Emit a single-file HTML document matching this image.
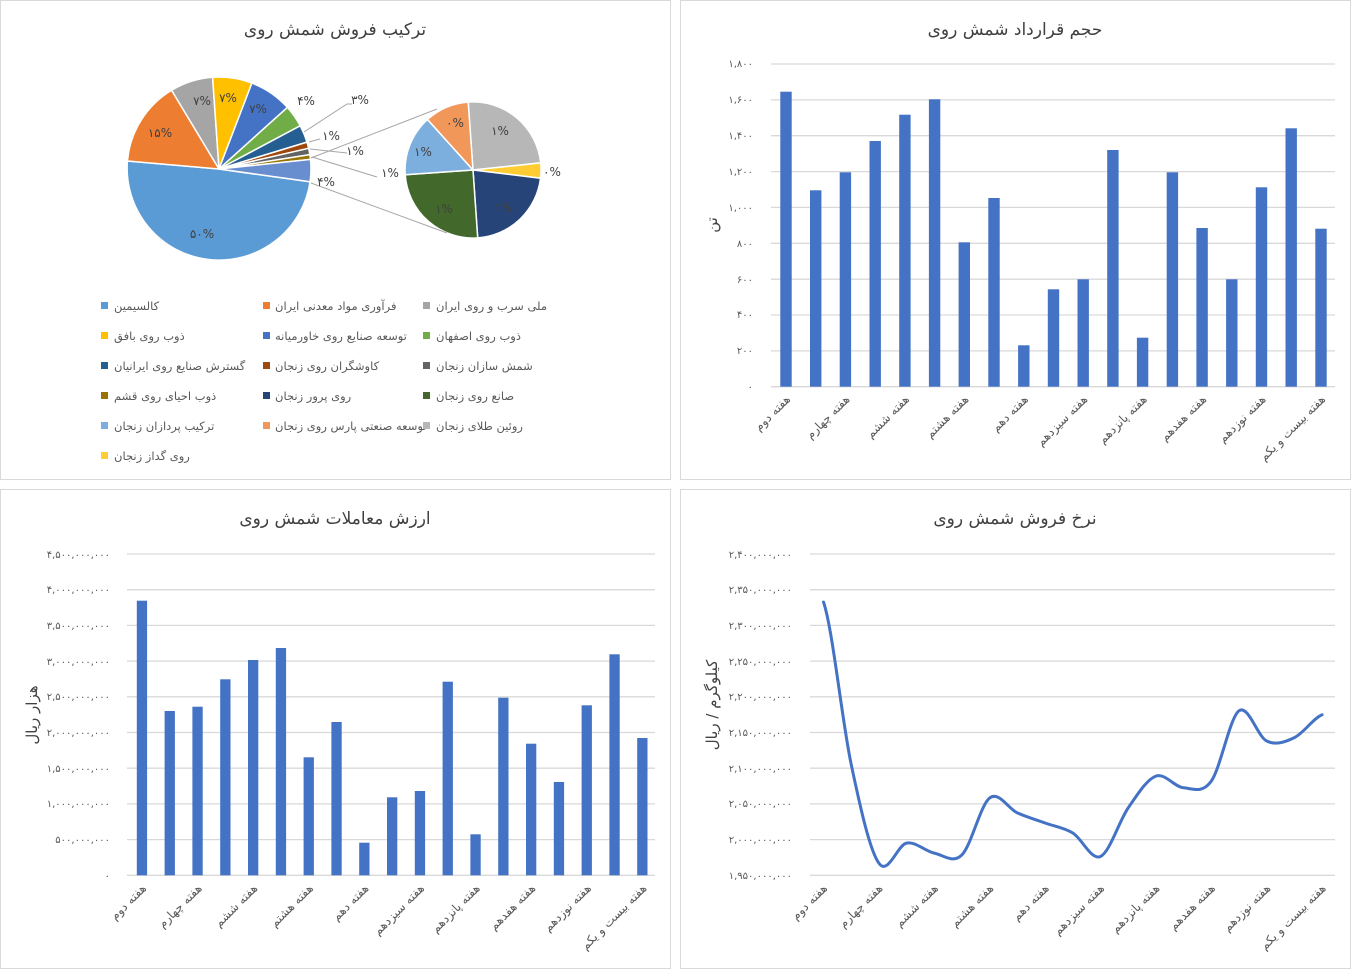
<!DOCTYPE html>
<html><head><meta charset="utf-8"><style>
html,body{margin:0;padding:0;background:#fff}
svg{display:block}
text{font-family:"DejaVu Sans","Liberation Sans",sans-serif}
.t{font-size:17px;fill:#404040;text-anchor:middle}
.tk{font-size:10px;fill:#595959;text-anchor:end}
.xl{font-size:12px;fill:#595959;text-anchor:end}
.lg{font-size:11.5px;fill:#595959}
.pl{font-size:12px;fill:#404040;text-anchor:middle}
.at{font-size:15px;fill:#404040;text-anchor:middle}
.g{stroke:#D9D9D9;stroke-width:1.3}
</style></head><body>
<svg width="1351" height="969" viewBox="0 0 1351 969" xmlns="http://www.w3.org/2000/svg">
<rect x="0" y="0" width="1351" height="969" fill="#fff"/>
<g fill="none" stroke="#D9D9D9" stroke-width="1">
<rect x="0.5" y="0.5" width="670" height="479"/>
<rect x="680.5" y="0.5" width="670" height="479"/>
<rect x="0.5" y="489.5" width="670" height="479"/>
<rect x="680.5" y="489.5" width="670" height="479"/>
</g>

<!-- PIE -->
<text class="t" x="335" y="35">ترکیب فروش شمش روی</text>
<g stroke="#fff" stroke-width="1.5" stroke-linejoin="round">
<path d="M219,169 L310.1,181.8 A92,92 0 0 1 127.4,161 Z" fill="#5B9BD5"/>
<path d="M219,169 L127.4,161 A92,92 0 0 1 171.6,90.2 Z" fill="#ED7D31"/>
<path d="M219,169 L171.6,90.2 A92,92 0 0 1 212.6,77.2 Z" fill="#A5A5A5"/>
<path d="M219,169 L212.6,77.2 A92,92 0 0 1 251.9,83.1 Z" fill="#FFC000"/>
<path d="M219,169 L251.9,83.1 A92,92 0 0 1 287.4,107.4 Z" fill="#4472C4"/>
<path d="M219,169 L287.4,107.4 A92,92 0 0 1 300.2,125.8 Z" fill="#70AD47"/>
<path d="M219,169 L300.2,125.8 A92,92 0 0 1 307,142.1 Z" fill="#255E91"/>
<path d="M219,169 L307,142.1 A92,92 0 0 1 308.6,148.3 Z" fill="#9E480E"/>
<path d="M219,169 L308.6,148.3 A92,92 0 0 1 309.9,154.6 Z" fill="#636363"/>
<path d="M219,169 L309.9,154.6 A92,92 0 0 1 310.5,159.4 Z" fill="#997300"/>
<path d="M219,169 L310.5,159.4 A92,92 0 0 1 310.1,181.8 Z" fill="#698ED0"/>
<path d="M473,170 L468.2,102.1 A68,68 0 0 1 540.7,162.9 Z" fill="#B7B7B7"/>
<path d="M473,170 L540.7,162.9 A68,68 0 0 1 540.5,178.3 Z" fill="#FFCD33"/>
<path d="M473,170 L540.5,178.3 A68,68 0 0 1 477.7,237.9 Z" fill="#264478"/>
<path d="M473,170 L477.7,237.9 A68,68 0 0 1 405.2,174.8 Z" fill="#43682B"/>
<path d="M473,170 L405.2,174.8 A68,68 0 0 1 427.5,119.5 Z" fill="#7CAFDD"/>
<path d="M473,170 L427.5,119.5 A68,68 0 0 1 468.2,102.1 Z" fill="#F1975A"/>
</g>
<g stroke="#A6A6A6" stroke-width="1" fill="none">
<line x1="311" y1="158" x2="437" y2="109"/>
<line x1="311" y1="183" x2="447" y2="233"/>
<polyline points="304,132 347,104 352,104"/>
<polyline points="309,142 320,139"/>
<polyline points="310,149 347,153"/>
<polyline points="312,157 377,177"/>
</g>
<text class="pl" x="202" y="238">۵۰%</text>
<text class="pl" x="160" y="137">۱۵%</text>
<text class="pl" x="202" y="105">۷%</text>
<text class="pl" x="228" y="102">۷%</text>
<text class="pl" x="258" y="113">۷%</text>
<text class="pl" x="306" y="105">۴%</text>
<text class="pl" x="360" y="104">۳%</text>
<text class="pl" x="331" y="140">۱%</text>
<text class="pl" x="355" y="155">۱%</text>
<text class="pl" x="390" y="177">۱%</text>
<text class="pl" x="326" y="186">۴%</text>
<text class="pl" x="455" y="127">۰%</text>
<text class="pl" x="500" y="135">۱%</text>
<text class="pl" x="423" y="156">۱%</text>
<text class="pl" x="552" y="176">۰%</text>
<text class="pl" x="444" y="213">۱%</text>
<text class="pl" x="503" y="212">۱%</text>

<g>
<rect x="101" y="302" width="7" height="7" fill="#5B9BD5"/><text class="lg" x="114" y="310">کالسیمین</text>
<rect x="263" y="302" width="7" height="7" fill="#ED7D31"/><text class="lg" x="275" y="310">فرآوری مواد معدنی ایران</text>
<rect x="423" y="302" width="7" height="7" fill="#A5A5A5"/><text class="lg" x="436" y="310">ملی سرب و روی ایران</text>
<rect x="101" y="332" width="7" height="7" fill="#FFC000"/><text class="lg" x="114" y="340">ذوب روی بافق</text>
<rect x="263" y="332" width="7" height="7" fill="#4472C4"/><text class="lg" x="275" y="340">توسعه صنایع روی خاورمیانه</text>
<rect x="423" y="332" width="7" height="7" fill="#70AD47"/><text class="lg" x="436" y="340">ذوب روی اصفهان</text>
<rect x="101" y="362" width="7" height="7" fill="#255E91"/><text class="lg" x="114" y="370">گسترش صنایع روی ایرانیان</text>
<rect x="263" y="362" width="7" height="7" fill="#9E480E"/><text class="lg" x="275" y="370">کاوشگران روی زنجان</text>
<rect x="423" y="362" width="7" height="7" fill="#636363"/><text class="lg" x="436" y="370">شمش سازان زنجان</text>
<rect x="101" y="392" width="7" height="7" fill="#997300"/><text class="lg" x="114" y="400">ذوب احیای روی قشم</text>
<rect x="263" y="392" width="7" height="7" fill="#264478"/><text class="lg" x="275" y="400">روی پرور زنجان</text>
<rect x="423" y="392" width="7" height="7" fill="#43682B"/><text class="lg" x="436" y="400">صانع روی زنجان</text>
<rect x="101" y="422" width="7" height="7" fill="#7CAFDD"/><text class="lg" x="114" y="430">ترکیب پردازان زنجان</text>
<rect x="263" y="422" width="7" height="7" fill="#F1975A"/><text class="lg" x="275" y="430">توسعه صنعتی پارس روی زنجان</text>
<rect x="423" y="422" width="7" height="7" fill="#B7B7B7"/><text class="lg" x="436" y="430">روئین طلای زنجان</text>
<rect x="101" y="452" width="7" height="7" fill="#FFCD33"/><text class="lg" x="114" y="460">روی گداز زنجان</text>
</g>

<!-- TOP RIGHT BAR -->
<text class="t" x="1015" y="35">حجم قرارداد شمش روی</text>
<g class="g">
<line x1="771" x2="1335" y1="64" y2="64"/><line x1="771" x2="1335" y1="99.9" y2="99.9"/>
<line x1="771" x2="1335" y1="135.7" y2="135.7"/><line x1="771" x2="1335" y1="171.6" y2="171.6"/>
<line x1="771" x2="1335" y1="207.4" y2="207.4"/><line x1="771" x2="1335" y1="243.3" y2="243.3"/>
<line x1="771" x2="1335" y1="279.2" y2="279.2"/><line x1="771" x2="1335" y1="315" y2="315"/>
<line x1="771" x2="1335" y1="350.9" y2="350.9"/><line x1="771" x2="1335" y1="386.7" y2="386.7"/>
</g>
<g>
<text class="tk" x="753" y="390">۰</text><text class="tk" x="753" y="354">۲۰۰</text>
<text class="tk" x="753" y="318">۴۰۰</text><text class="tk" x="753" y="283">۶۰۰</text>
<text class="tk" x="753" y="247">۸۰۰</text><text class="tk" x="753" y="211">۱,۰۰۰</text>
<text class="tk" x="753" y="175">۱,۲۰۰</text><text class="tk" x="753" y="139">۱,۴۰۰</text>
<text class="tk" x="753" y="103">۱,۶۰۰</text><text class="tk" x="753" y="67">۱,۸۰۰</text>
</g>
<text class="at" transform="translate(717,225) rotate(-90)">تن</text>
<g fill="#4472C4">
<rect x="780.3" y="91.7" width="11.4" height="295"/>
<rect x="810" y="190.3" width="11.4" height="196.4"/>
<rect x="839.7" y="172.3" width="11.4" height="214.4"/>
<rect x="869.5" y="141" width="11.4" height="245.7"/>
<rect x="899.2" y="114.7" width="11.4" height="272"/>
<rect x="928.9" y="99.3" width="11.4" height="287.4"/>
<rect x="958.6" y="242.3" width="11.4" height="144.4"/>
<rect x="988.3" y="198" width="11.4" height="188.7"/>
<rect x="1018.1" y="345.3" width="11.4" height="41.4"/>
<rect x="1047.8" y="289.3" width="11.4" height="97.4"/>
<rect x="1077.5" y="279.3" width="11.4" height="107.4"/>
<rect x="1107.2" y="150" width="11.4" height="236.7"/>
<rect x="1136.9" y="337.7" width="11.4" height="49"/>
<rect x="1166.7" y="172.3" width="11.4" height="214.4"/>
<rect x="1196.4" y="228" width="11.4" height="158.7"/>
<rect x="1226.1" y="279.3" width="11.4" height="107.4"/>
<rect x="1255.8" y="187.3" width="11.4" height="199.4"/>
<rect x="1285.5" y="128.3" width="11.4" height="258.4"/>
<rect x="1315.3" y="228.7" width="11.4" height="158"/>
</g>
<g>
<text class="xl" transform="translate(791,400) rotate(-45)">هفته دوم</text>
<text class="xl" transform="translate(850.4,400) rotate(-45)">هفته چهارم</text>
<text class="xl" transform="translate(909.9,400) rotate(-45)">هفته ششم</text>
<text class="xl" transform="translate(969.3,400) rotate(-45)">هفته هشتم</text>
<text class="xl" transform="translate(1028.8,400) rotate(-45)">هفته دهم</text>
<text class="xl" transform="translate(1088.2,400) rotate(-45)">هفته سیزدهم</text>
<text class="xl" transform="translate(1147.6,400) rotate(-45)">هفته پانزدهم</text>
<text class="xl" transform="translate(1207.1,400) rotate(-45)">هفته هفدهم</text>
<text class="xl" transform="translate(1266.5,400) rotate(-45)">هفته نوزدهم</text>
<text class="xl" transform="translate(1326,400) rotate(-45)">هفته بیست و یکم</text>
</g>

<!-- BOTTOM LEFT BAR -->
<text class="t" x="335" y="524">ارزش معاملات شمش روی</text>
<g class="g">
<line x1="127" x2="655" y1="554" y2="554"/><line x1="127" x2="655" y1="589.7" y2="589.7"/>
<line x1="127" x2="655" y1="625.4" y2="625.4"/><line x1="127" x2="655" y1="661.1" y2="661.1"/>
<line x1="127" x2="655" y1="696.8" y2="696.8"/><line x1="127" x2="655" y1="732.5" y2="732.5"/>
<line x1="127" x2="655" y1="768.2" y2="768.2"/><line x1="127" x2="655" y1="803.9" y2="803.9"/>
<line x1="127" x2="655" y1="839.6" y2="839.6"/><line x1="127" x2="655" y1="875.3" y2="875.3"/>
</g>
<g>
<text class="tk" x="110" y="879">۰</text><text class="tk" x="110" y="843">۵۰۰,۰۰۰,۰۰۰</text>
<text class="tk" x="110" y="807">۱,۰۰۰,۰۰۰,۰۰۰</text><text class="tk" x="110" y="772">۱,۵۰۰,۰۰۰,۰۰۰</text>
<text class="tk" x="110" y="736">۲,۰۰۰,۰۰۰,۰۰۰</text><text class="tk" x="110" y="700">۲,۵۰۰,۰۰۰,۰۰۰</text>
<text class="tk" x="110" y="665">۳,۰۰۰,۰۰۰,۰۰۰</text><text class="tk" x="110" y="629">۳,۵۰۰,۰۰۰,۰۰۰</text>
<text class="tk" x="110" y="593">۴,۰۰۰,۰۰۰,۰۰۰</text><text class="tk" x="110" y="558">۴,۵۰۰,۰۰۰,۰۰۰</text>
</g>
<text class="at" transform="translate(37,715) rotate(-90)">هزار ریال</text>
<g fill="#4472C4">
<rect x="136.8" y="600.7" width="10.3" height="274.6"/>
<rect x="164.6" y="711" width="10.3" height="164.3"/>
<rect x="192.4" y="706.7" width="10.3" height="168.6"/>
<rect x="220.2" y="679.3" width="10.3" height="196"/>
<rect x="248" y="660" width="10.3" height="215.3"/>
<rect x="275.8" y="648" width="10.3" height="227.3"/>
<rect x="303.6" y="757.3" width="10.3" height="118"/>
<rect x="331.4" y="722" width="10.3" height="153.3"/>
<rect x="359.2" y="842.7" width="10.3" height="32.6"/>
<rect x="387" y="797.3" width="10.3" height="78"/>
<rect x="414.8" y="791" width="10.3" height="84.3"/>
<rect x="442.6" y="681.7" width="10.3" height="193.6"/>
<rect x="470.4" y="834.3" width="10.3" height="41"/>
<rect x="498.2" y="697.7" width="10.3" height="177.6"/>
<rect x="526" y="743.7" width="10.3" height="131.6"/>
<rect x="553.8" y="782" width="10.3" height="93.3"/>
<rect x="581.6" y="705.3" width="10.3" height="170"/>
<rect x="609.4" y="654.3" width="10.3" height="221"/>
<rect x="637.2" y="738" width="10.3" height="137.3"/>
</g>
<g>
<text class="xl" transform="translate(147,889) rotate(-45)">هفته دوم</text>
<text class="xl" transform="translate(202.6,889) rotate(-45)">هفته چهارم</text>
<text class="xl" transform="translate(258.2,889) rotate(-45)">هفته ششم</text>
<text class="xl" transform="translate(313.8,889) rotate(-45)">هفته هشتم</text>
<text class="xl" transform="translate(369.4,889) rotate(-45)">هفته دهم</text>
<text class="xl" transform="translate(425,889) rotate(-45)">هفته سیزدهم</text>
<text class="xl" transform="translate(480.6,889) rotate(-45)">هفته پانزدهم</text>
<text class="xl" transform="translate(536.2,889) rotate(-45)">هفته هفدهم</text>
<text class="xl" transform="translate(591.8,889) rotate(-45)">هفته نوزدهم</text>
<text class="xl" transform="translate(647.4,889) rotate(-45)">هفته بیست و یکم</text>
</g>

<!-- BOTTOM RIGHT LINE -->
<text class="t" x="1015" y="524">نرخ فروش شمش روی</text>
<g class="g">
<line x1="810" x2="1335" y1="554" y2="554"/><line x1="810" x2="1335" y1="589.7" y2="589.7"/>
<line x1="810" x2="1335" y1="625.4" y2="625.4"/><line x1="810" x2="1335" y1="661.1" y2="661.1"/>
<line x1="810" x2="1335" y1="696.8" y2="696.8"/><line x1="810" x2="1335" y1="732.5" y2="732.5"/>
<line x1="810" x2="1335" y1="768.2" y2="768.2"/><line x1="810" x2="1335" y1="803.9" y2="803.9"/>
<line x1="810" x2="1335" y1="839.6" y2="839.6"/><line x1="810" x2="1335" y1="875.3" y2="875.3"/>
</g>
<g>
<text class="tk" x="792" y="879">۱,۹۵۰,۰۰۰,۰۰۰</text><text class="tk" x="792" y="843">۲,۰۰۰,۰۰۰,۰۰۰</text>
<text class="tk" x="792" y="807">۲,۰۵۰,۰۰۰,۰۰۰</text><text class="tk" x="792" y="772">۲,۱۰۰,۰۰۰,۰۰۰</text>
<text class="tk" x="792" y="736">۲,۱۵۰,۰۰۰,۰۰۰</text><text class="tk" x="792" y="700">۲,۲۰۰,۰۰۰,۰۰۰</text>
<text class="tk" x="792" y="665">۲,۲۵۰,۰۰۰,۰۰۰</text><text class="tk" x="792" y="629">۲,۳۰۰,۰۰۰,۰۰۰</text>
<text class="tk" x="792" y="593">۲,۳۵۰,۰۰۰,۰۰۰</text><text class="tk" x="792" y="558">۲,۴۰۰,۰۰۰,۰۰۰</text>
</g>
<text class="at" transform="translate(717,705) rotate(-90)">کیلوگرم / ریال</text>
<path fill="none" stroke="#4472C4" stroke-width="3" stroke-linecap="round" stroke-linejoin="round" d="M823.5,602
C832.7,629.1 842,720.9 851.2,764.4
C860.4,807.9 869.7,850.1 878.9,863.2
C888.1,876.3 897.4,844.8 906.6,843.1
C915.8,841.4 925.1,851.2 934.3,853.1
C943.5,855.1 952.8,864 962,854.8
C971.2,845.6 980.5,804.9 989.7,797.9
C998.9,790.9 1008.2,808.7 1017.4,812.9
C1026.6,817.1 1035.9,819.7 1045.1,823
C1054.3,826.4 1063.6,827.4 1072.8,833
C1082,838.6 1091.3,860.7 1100.5,856.5
C1109.7,852.3 1119,821.3 1128.2,807.9
C1137.4,794.5 1146.7,779.5 1155.9,776.1
C1165.1,772.8 1174.4,787 1183.6,787.8
C1192.8,788.6 1202.1,793.9 1211.3,781.1
C1220.5,768.3 1229.8,717.5 1239,710.8
C1248.2,704.1 1257.5,736.5 1266.7,741
C1275.9,745.5 1285.2,742 1294.4,737.6
C1303.6,733.2 1312.9,718.6 1322.1,714.8"/>
<g>
<text class="xl" transform="translate(828,889) rotate(-45)">هفته دوم</text>
<text class="xl" transform="translate(883.4,889) rotate(-45)">هفته چهارم</text>
<text class="xl" transform="translate(938.8,889) rotate(-45)">هفته ششم</text>
<text class="xl" transform="translate(994.2,889) rotate(-45)">هفته هشتم</text>
<text class="xl" transform="translate(1049.6,889) rotate(-45)">هفته دهم</text>
<text class="xl" transform="translate(1105,889) rotate(-45)">هفته سیزدهم</text>
<text class="xl" transform="translate(1160.4,889) rotate(-45)">هفته پانزدهم</text>
<text class="xl" transform="translate(1215.8,889) rotate(-45)">هفته هفدهم</text>
<text class="xl" transform="translate(1271.2,889) rotate(-45)">هفته نوزدهم</text>
<text class="xl" transform="translate(1326.6,889) rotate(-45)">هفته بیست و یکم</text>
</g>
</svg>
</body></html>
